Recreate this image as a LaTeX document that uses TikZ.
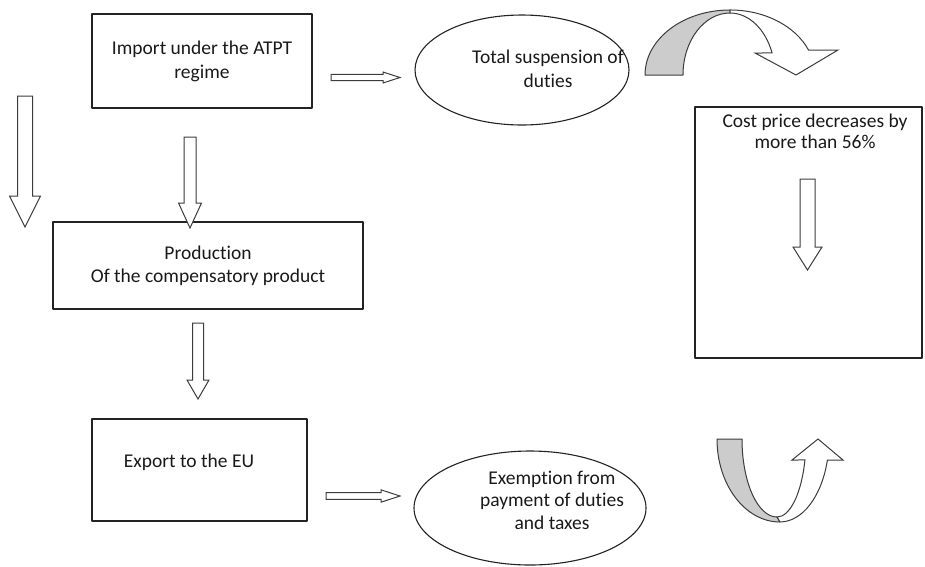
\documentclass[tikz,border=0pt]{standalone}
\usepackage{fontspec}
\setmainfont{Carlito}[Ligatures=NoCommon]
\usetikzlibrary{shapes.geometric,calc}
\definecolor{boxLine}{RGB}{35,35,35}
\definecolor{arrowLine}{RGB}{60,60,60}
\definecolor{ribbonGray}{RGB}{204,204,204}
\definecolor{inkText}{RGB}{25,25,25}

% hollow block arrow: tail, tip, half shaft, half head, head length
\newcommand{\fatarrow}[5]{%
  \coordinate (fatHead) at ($(#2)!#5!(#1)$);
  \draw[blockArrow]
    ($(#1)!#3!90:(#2)$) -- ($(fatHead)!#3!-90:(#1)$) -- ($(fatHead)!#4!-90:(#1)$) --
    (#2) -- ($(fatHead)!#4!90:(#1)$) -- ($(fatHead)!#3!90:(#1)$) -- ($(#1)!#3!-90:(#2)$) -- cycle;
}

\tikzset{
  labelText/.style={text=inkText,align=center,font=\fontsize{19.5}{24}\selectfont},
  boxNode/.style={draw=boxLine,line width=1.1pt,rectangle,inner sep=0pt,labelText},
  ovalNode/.style={draw=boxLine,line width=1.1pt,ellipse,inner sep=0pt},
  blockArrow/.style={draw=arrowLine,fill=white,line width=1pt,line join=miter},
}

\begin{document}
\begin{tikzpicture}[x=1pt,y=-1pt,line join=round]

% fixed canvas in pixel units, y pointing down
\path[use as bounding box] (0,0) rectangle (925,566);

% boxes of the main chain
\node[boxNode,minimum width=220pt,minimum height=94pt] (importBox) at (202,61)
  {Import under the ATPT\\regime};
\node[boxNode,minimum width=310pt,minimum height=87pt,font=\fontsize{19.5}{23}\selectfont] (productionBox) at (208,265.5)
  {Production\\Of the compensatory product};
\node[boxNode,minimum width=215pt,minimum height=102pt] (exportBox) at (199.5,470) {};
\node[labelText] (exportText) at (189,462) {Export to the EU};

% ovals
\node[ovalNode,minimum width=214pt,minimum height=110pt] (suspensionOval) at (522,70) {};
\node[labelText] (suspensionText) at (548,69) {Total suspension of\\duties};
\node[ovalNode,minimum width=232pt,minimum height=114pt] (exemptionOval) at (530,508) {};
\node[labelText,font=\fontsize{19.5}{22.5}\selectfont] (exemptionText) at (552,500)
  {Exemption from\\payment of duties\\and taxes};

% cost price box on the right
\node[boxNode,minimum width=227pt,minimum height=251pt] (costBox) at (808.5,232.5) {};
\node[labelText,font=\fontsize{19.5}{21}\selectfont,anchor=north] (costText) at (815,110)
  {Cost price decreases by\\more than 56\%};

% arrow end points
\coordinate (sideTail) at (25,96);
\coordinate (sideTip) at (25,227);
\coordinate (importTail) at (190,137);
\coordinate (importTip) at (190,228);
\coordinate (productionTail) at (198,323);
\coordinate (productionTip) at (198,399);
\coordinate (suspensionTail) at (331,77.5);
\coordinate (suspensionTip) at (400,77.5);
\coordinate (exemptionTail) at (326,496);
\coordinate (exemptionTip) at (400,496);
\coordinate (costTail) at (807.5,179);
\coordinate (costTip) at (807.5,270);

% block arrows
\fatarrow{sideTail}{sideTip}{7.5pt}{15.5pt}{31pt}
\fatarrow{importTail}{importTip}{6pt}{11.5pt}{25pt}
\fatarrow{productionTail}{productionTip}{5.5pt}{11pt}{19pt}
\fatarrow{suspensionTail}{suspensionTip}{3.2pt}{5.5pt}{17pt}
\fatarrow{exemptionTail}{exemptionTip}{3.4pt}{6.2pt}{19pt}
\fatarrow{costTail}{costTip}{7.5pt}{14.5pt}{23pt}

% curved arrow at the top: back band first, then front band with head
\fill[ribbonGray,draw=arrowLine,line width=1pt]
  (645,75) -- (683,75) arc[start angle=180,end angle=270,x radius=47,y radius=62]
  -- (730,10) arc[start angle=270,end angle=180,x radius=85,y radius=65] -- cycle;
\fill[white,draw=arrowLine,line width=1pt,line join=miter]
  (730,13) arc[start angle=270,end angle=339.2,x radius=45,y radius=62]
  -- (755,53) -- (796,75) -- (838,50) -- (808.5,50)
  arc[start angle=337.4,end angle=270,x radius=85,y radius=65] -- cycle;

% curved arrow at the bottom
\fill[ribbonGray,draw=arrowLine,line width=1pt]
  (717,439) -- (742,439) arc[start angle=180,end angle=90,x radius=35,y radius=78]
  -- (780,522) arc[start angle=90,end angle=180,x radius=63,y radius=83] -- cycle;
\fill[white,draw=arrowLine,line width=1pt,line join=miter]
  (777,517) arc[start angle=90,end angle=15.6,x radius=29,y radius=78]
  -- (792,460) -- (818,439) -- (843,460) -- (827.4,460)
  arc[start angle=14.7,end angle=90,x radius=49,y radius=83] -- cycle;

\end{tikzpicture}
\end{document}
